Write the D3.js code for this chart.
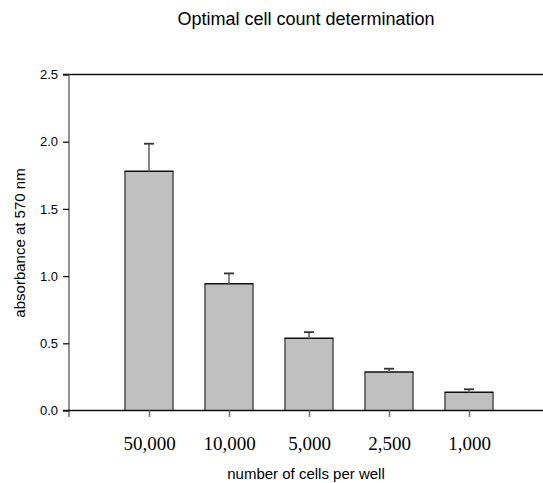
<!DOCTYPE html>
<html>
<head>
<meta charset="utf-8">
<script src="https://cdn.jsdelivr.net/npm/d3@7"></script>
<style>
  html, body { margin: 0; padding: 0; background: #fff; }
  svg { display: block; }
</style>
</head>
<body>
<svg id="chart" width="543" height="483"></svg>
<script>
const categories = ["50,000", "10,000", "5,000", "2,500", "1,000"];
const means = [1.78, 0.943, 0.538, 0.287, 0.136];
const errors = [0.205, 0.077, 0.045, 0.024, 0.022];
const yTicks = [0.0, 0.5, 1.0, 1.5, 2.0, 2.5];

const svg = d3.select("#chart");
const x0 = 69, y0 = 410.5, yTop = 74.5;

const x = d3.scaleLinear().domain([0, 6]).range([x0, x0 + 480]);
const y = d3.scaleLinear().domain([0, 2.5]).range([y0, yTop]);
const barW = 48;

// title
svg.append("text").attr("x", 306).attr("y", 25).attr("text-anchor", "middle")
  .attr("font-family", "Liberation Sans, Arial, sans-serif").attr("font-size", 18)
  .attr("fill", "#000").text("Optimal cell count determination");

// bars
const g = svg.append("g");
categories.forEach((c, i) => {
  const cx = x(i + 1);
  const left = cx - barW / 2, right = cx + barW / 2;
  const top = y(means[i]);
  g.append("rect").attr("x", left).attr("y", top).attr("width", barW).attr("height", y0 - top)
    .attr("fill", "#c0c0c0");
  g.append("line").attr("x1", left).attr("x2", left).attr("y1", top).attr("y2", y0)
    .attr("stroke", "#666").attr("stroke-width", 1.8);
  g.append("line").attr("x1", right).attr("x2", right).attr("y1", top).attr("y2", y0)
    .attr("stroke", "#666").attr("stroke-width", 1.8);
  g.append("line").attr("x1", left - 0.5).attr("x2", right + 0.5).attr("y1", top).attr("y2", top)
    .attr("stroke", "#111").attr("stroke-width", 1.5);
  const et = y(means[i] + errors[i]);
  g.append("line").attr("x1", cx).attr("x2", cx).attr("y1", top).attr("y2", et)
    .attr("stroke", "#666").attr("stroke-width", 1.6);
  g.append("line").attr("x1", cx - 5).attr("x2", cx + 5).attr("y1", et).attr("y2", et)
    .attr("stroke", "#333").attr("stroke-width", 1.8);
});

// top frame line at 2.5
svg.append("line").attr("x1", x0 - 6).attr("x2", 543).attr("y1", y(2.5)).attr("y2", y(2.5))
  .attr("stroke", "#111").attr("stroke-width", 1.5);

// y axis line (gray)
svg.append("line").attr("x1", x0).attr("x2", x0).attr("y1", y(2.5)).attr("y2", y0 + 6.5)
  .attr("stroke", "#777").attr("stroke-width", 1.6);

// y ticks and labels
const yAxis = d3.axisLeft(y).tickValues(yTicks).tickFormat(d3.format(".1f")).tickSize(6).tickPadding(5);
const ya = svg.append("g").attr("transform", `translate(${x0},0)`).call(yAxis);
ya.select(".domain").remove();
ya.selectAll(".tick line").attr("stroke", "#111").attr("stroke-width", 1.3);
ya.selectAll(".tick text").attr("font-family", "Liberation Sans, Arial, sans-serif")
  .attr("font-size", 13).attr("fill", "#000");

// x axis
svg.append("line").attr("x1", x0 - 6).attr("x2", 543).attr("y1", y0).attr("y2", y0)
  .attr("stroke", "#111").attr("stroke-width", 1.5);
const xAxis = d3.axisBottom(x).tickValues([1, 2, 3, 4, 5]).tickSize(6.5)
  .tickFormat((d) => categories[d - 1]);
const xa = svg.append("g").attr("transform", `translate(0,${y0})`).call(xAxis);
xa.select(".domain").remove();
xa.selectAll(".tick line").attr("stroke", "#777").attr("stroke-width", 1.6);
xa.selectAll(".tick text").attr("font-family", "Liberation Serif, Times New Roman, serif")
  .attr("font-size", 19).attr("fill", "#000").attr("y", 39.5).attr("dy", 0);

// axis titles
svg.append("text").attr("x", 306).attr("y", 479).attr("text-anchor", "middle")
  .attr("font-family", "Liberation Sans, Arial, sans-serif").attr("font-size", 15)
  .attr("fill", "#000").text("number of cells per well");
svg.append("text").attr("transform", "translate(25,243) rotate(-90)").attr("text-anchor", "middle")
  .attr("font-family", "Liberation Sans, Arial, sans-serif").attr("font-size", 15)
  .attr("fill", "#000").text("absorbance at 570 nm");
</script>
</body>
</html>
